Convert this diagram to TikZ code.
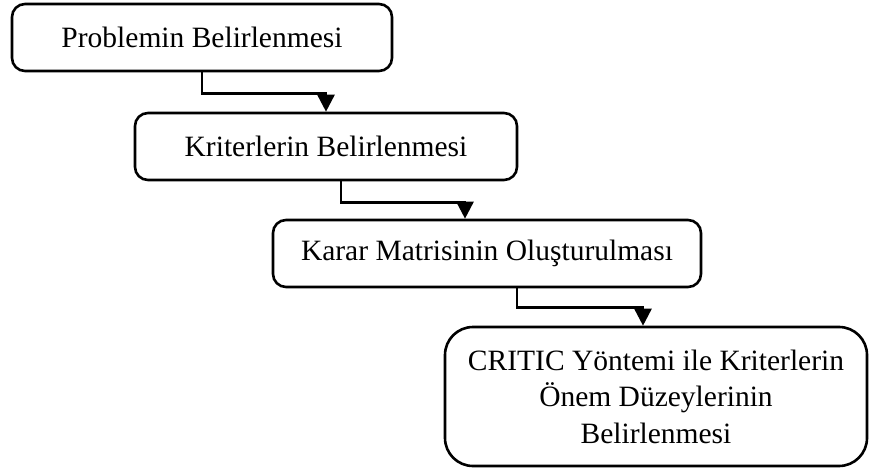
\documentclass[tikz,border=0pt]{standalone}
\usepackage{fontspec}
\setmainfont{Liberation Serif}
\usetikzlibrary{arrows.meta}
\begin{document}
\begin{tikzpicture}[x=1pt,y=-1pt,
  stepbox/.style={draw, line width=2.6pt, rounded corners=13pt, inner sep=0pt,
    font=\fontsize{29.5}{36.5}\selectfont, align=center},
  conn/.style={line width=2.6pt, -{Triangle[length=17pt,width=17pt]}}]
\useasboundingbox (0,0) rectangle (869,470);
\node[stepbox, minimum width=380pt, minimum height=67pt] (b1) at (202,37.5) {Problemin Belirlenmesi};
\node[stepbox, minimum width=382pt, minimum height=67pt] (b2) at (326,146.5) {Kriterlerin Belirlenmesi};
\node[stepbox, minimum width=428pt, minimum height=67pt] (b3) at (487,253.5) {Karar Matrisinin Oluşturulması};
\node[stepbox, rounded corners=28pt, minimum width=422pt, minimum height=139pt] (b4) at (656,396.5) {CRITIC Yöntemi ile Kriterlerin\\Önem Düzeylerinin\\Belirlenmesi};
\draw[conn] (b1.south) -- ++(0,21) -| (b2.north);
\draw[conn] ([xshift=15pt]b2.south) -- ++(0,21) -| ([xshift=-22pt]b3.north);
\draw[conn] ([xshift=30pt]b3.south) -- ++(0,19) -| ([xshift=-13pt]b4.north);
\end{tikzpicture}
\end{document}
